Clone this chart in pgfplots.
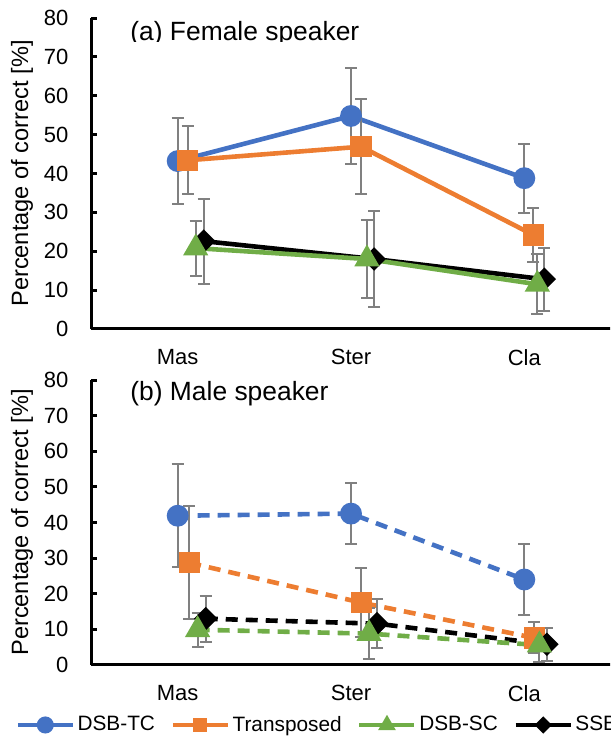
\documentclass[border=0pt]{standalone}
\usepackage{pgfplots}
\pgfplotsset{compat=1.18}
\usepackage{fontspec}
\setmainfont{Liberation Sans}
\definecolor{cblue}{RGB}{68,114,196}
\definecolor{corange}{RGB}{237,125,49}
\definecolor{cgreen}{RGB}{112,173,71}
\definecolor{cblack}{RGB}{0,0,0}
\definecolor{cgray}{RGB}{128,128,128}
\pgfplotsset{
  panel/.style={
    scale only axis, width=260pt,
    xmin=-0.5, xmax=2.5, ymin=0, ymax=80,
    axis lines=left, axis line style={-, line width=1.5pt, black},
    xtick={0,1,2}, xticklabels={Mas,Ster,Cla},
    x tick style={draw=none},
    ytick={0,10,...,80},
    y tick style={line width=1.5pt, black},
    tick align=inside, major tick length=3pt,
    tick label style={font=\fontsize{11}{13}\selectfont},
    /pgf/number format/assume math mode=true,
    yticklabel style={xshift=-7.8pt},
    xticklabel style={yshift=-6.5pt},
    ylabel={Percentage of correct [\%]},
    ylabel style={at={(axis description cs:-0.1327,0.5)}, anchor=center, font=\fontsize{11.8}{14}\selectfont},
    clip=false,
  },
  eb/.style={/pgfplots/error bars/y dir=both, /pgfplots/error bars/y explicit,
    /pgfplots/error bars/error bar style={line width=1pt, cgray, solid},
    /pgfplots/error bars/error mark options={cgray, line width=1pt, mark size=3pt, solid, rotate=90}},
  sblue/.style={color=cblue, line width=2.3pt, mark=*, mark size=4.3pt, mark options={solid}},
  sorange/.style={color=corange, line width=2.3pt, mark=square*, mark size=4.2pt, mark options={solid}},
  sgreen/.style={color=cgreen, line width=2.3pt, mark=triangle*, mark size=5pt, mark options={solid}},
  sblack/.style={color=cblack, line width=2.3pt, mark=square*, mark size=3pt, mark options={solid, rotate=45}},
  dsh/.style={dash pattern=on 6pt off 4pt},
}
\begin{document}
\begin{tikzpicture}
\path[use as bounding box] (0pt,0pt) rectangle (305pt,368.5pt);
\clip (0pt,0pt) rectangle (305pt,368.5pt);
% (a) Female speaker
\begin{axis}[panel, at={(45.5pt,204pt)}, anchor=south west, height=155.5pt,
  legend style={draw=none, fill=none, at={(axis description cs:-0.1452,-1.2733)}, anchor=west,
    inner sep=0pt, outer sep=0pt, font=\fontsize{10.4}{12}\selectfont,
    nodes={inner sep=1.25pt},
    /tikz/every even column/.append style={column sep=6.5pt}},
  legend columns=4,
  legend image code/.code={\draw[mark repeat=2,mark phase=2] plot coordinates {(0pt,0pt) (13.75pt,0pt) (27.5pt,0pt)};}]
\addlegendimage{color=cblue, line width=2.3pt, mark=*, mark size=3.1pt}
\addlegendentry{DSB-TC}
\addlegendimage{color=corange, line width=2.3pt, mark=square*, mark size=2.4pt}
\addlegendentry{Transposed}
\addlegendimage{color=cgreen, line width=2.3pt, mark=triangle*, mark size=2.8pt}
\addlegendentry{DSB-SC}
\addlegendimage{color=cblack, line width=2.3pt, mark=square*, mark size=1.9pt, mark options={rotate=45}}
\addlegendentry{SSB}
\addplot[forget plot, sblue, eb] table[x=x, y=y, y error=e] {
x y e
0 43.2 11.1
1 54.8 12.25
2 38.8 8.9
};
\addplot[forget plot, sorange, eb] table[x=x, y=y, y error=e] {
x y e
0.058 43.4 8.8
1.058 46.9 12.25
2.052 24.2 6.95
};
\addplot[forget plot, sblack, eb] table[x=x, y=y, y error=e] {
x y e
0.15 22.6 10.95
1.133 18.0 12.35
2.115 12.8 8.1
};
\addplot[forget plot, sgreen, eb] table[x=x, y=y, y error=e] {
x y e
0.104 20.8 7.05
1.092 18.0 9.95
2.075 11.5 7.75
};
\end{axis}
% (b) Male speaker
\begin{axis}[panel, at={(45.5pt,36pt)}, anchor=south west, height=142.5pt]
\addplot[sblue, dsh, eb] table[x=x, y=y, y error=e] {
x y e
0 41.9 14.45
1 42.5 8.5
2 24.0 10.0
};
\addplot[sorange, dsh, eb] table[x=x, y=y, y error=e] {
x y e
0.067 28.7 15.9
1.06 17.5 9.75
2.058 7.6 4.35
};
\addplot[sblack, dsh, eb] table[x=x, y=y, y error=e] {
x y e
0.162 13.0 6.45
1.15 11.6 6.9
2.13 5.8 4.7
};
\addplot[sgreen, dsh, eb] table[x=x, y=y, y error=e] {
x y e
0.115 9.9 4.75
1.104 8.8 7.25
2.087 5.6 4.7
};
\end{axis}
\begin{scope}
\clip (0pt,347.6pt) rectangle (305pt,368.5pt);
\node[anchor=base west, inner sep=0pt, font=\fontsize{13.2}{15}\selectfont] at (65pt,348.3pt) {(a) Female speaker};
\end{scope}
\node[anchor=base west, inner sep=0pt, font=\fontsize{13.2}{15}\selectfont] at (65pt,168pt) {(b) Male speaker};
\end{tikzpicture}
\end{document}
